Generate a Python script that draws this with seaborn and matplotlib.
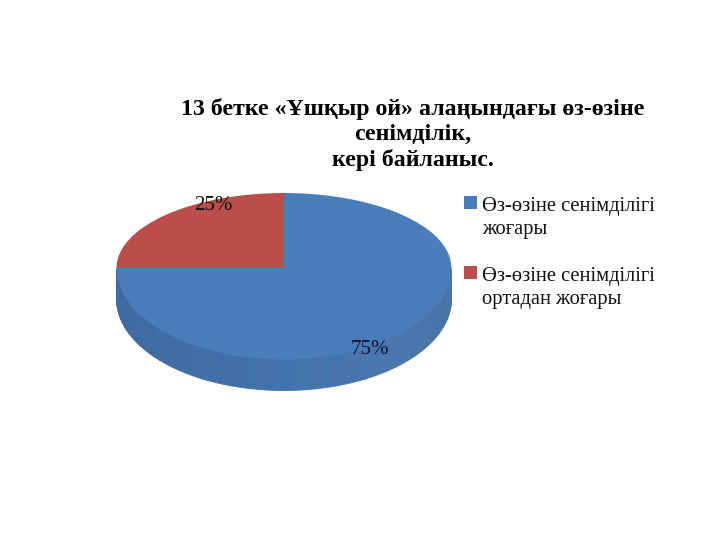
import numpy as np
import matplotlib
matplotlib.use("Agg")
import matplotlib.pyplot as plt
from matplotlib.legend_handler import HandlerPatch
from matplotlib.patches import Rectangle, Wedge
import seaborn as sns

sns.set_theme(style="white")
plt.rcParams["font.family"] = ["Liberation Serif", "DejaVu Serif"]

title_lines = ["13 бетке «Ұшқыр ой» алаңындағы өз-өзіне", "сенімділік,", "кері байланыс."]
categories = ["Өз-өзіне сенімділігі\nжоғары", "Өз-өзіне сенімділігі\nортадан жоғары"]
values = [75, 25]
slice_colors = ["#4A7EBB", "#B94E4B"]
side_stops = ["#3E6A9E", "#406DA5", "#4373AC", "#4A78AE", "#4674A6"]

W, H = 720, 540
CX, CY = 284, 268          # pixel position of the pie centre
RX, RY_UP, RY_DOWN = 167.5, 75.0, 91.5
DEPTH = 31 / RY_DOWN


def persp(y):
    y = np.asarray(y, dtype=float)
    return np.where(y >= 0, y * RY_UP, y * RY_DOWN)


def persp_inv(v):
    v = np.asarray(v, dtype=float)
    return np.where(v >= 0, v / RY_UP, v / RY_DOWN)


def raised_square(legend, orig_handle, xdescent, ydescent, width, height, fontsize):
    return Rectangle((-xdescent, -ydescent + 11), width, height)


fig = plt.figure(figsize=(W / 100, H / 100), dpi=100, facecolor="white")
ax = fig.add_axes([0, 0, 1, 1])

# side wall: stacked rings of facets, deepest first
n_facets = 60
side_palette = sns.blend_palette(side_stops, n_colors=n_facets)
for d in np.linspace(DEPTH, 0.01, 32):
    wedges, _ = ax.pie(np.full(n_facets, 1 / (2 * n_facets)), normalize=False,
                       startangle=180, counterclock=True, center=(0, -d),
                       colors=side_palette, radius=1.0)
    for w in wedges:
        w.set_edgecolor(w.get_facecolor())
        w.set_linewidth(0.6)

# top face
top, _ = ax.pie(values, startangle=90, counterclock=False, colors=slice_colors,
                radius=1.0, center=(0, 0), wedgeprops={"linewidth": 0, "edgecolor": "none"})

ax.set_aspect("auto")
ax.set_yscale("function", functions=(persp, persp_inv))
ax.set_xlim(-CX / RX, (W - CX) / RX)
ax.set_ylim(-(H - CY) / RY_DOWN, CY / RY_UP)
ax.set_axis_off()

# percent labels
ax.text(-0.424, 0.83, f"{values[1]}%", ha="center", va="center", fontsize=15, color="#111111")
ax.text(0.513, -0.89, f"{values[0]}%", ha="center", va="center", fontsize=15, color="#111133")

fig.text(413 / W, 1 - 134.5 / H, "\n".join(title_lines), ha="center", va="center",
         fontsize=17.2, fontweight="bold", color="black", linespacing=1.27)

leg = fig.legend(top, categories, loc="upper left", bbox_to_anchor=(458 / W, 1 - 191 / H),
                 frameon=False, fontsize=14.8, handlelength=0.63, handleheight=0.63,
                 handletextpad=0.23, labelspacing=1.33, labelcolor="#111111", borderpad=0.3,
                 borderaxespad=0,
                 handler_map={Wedge: HandlerPatch(patch_func=raised_square)})
for t in leg.get_texts():
    t.set_linespacing(1.3)

fig.savefig("out.png", dpi=100, facecolor="white")
